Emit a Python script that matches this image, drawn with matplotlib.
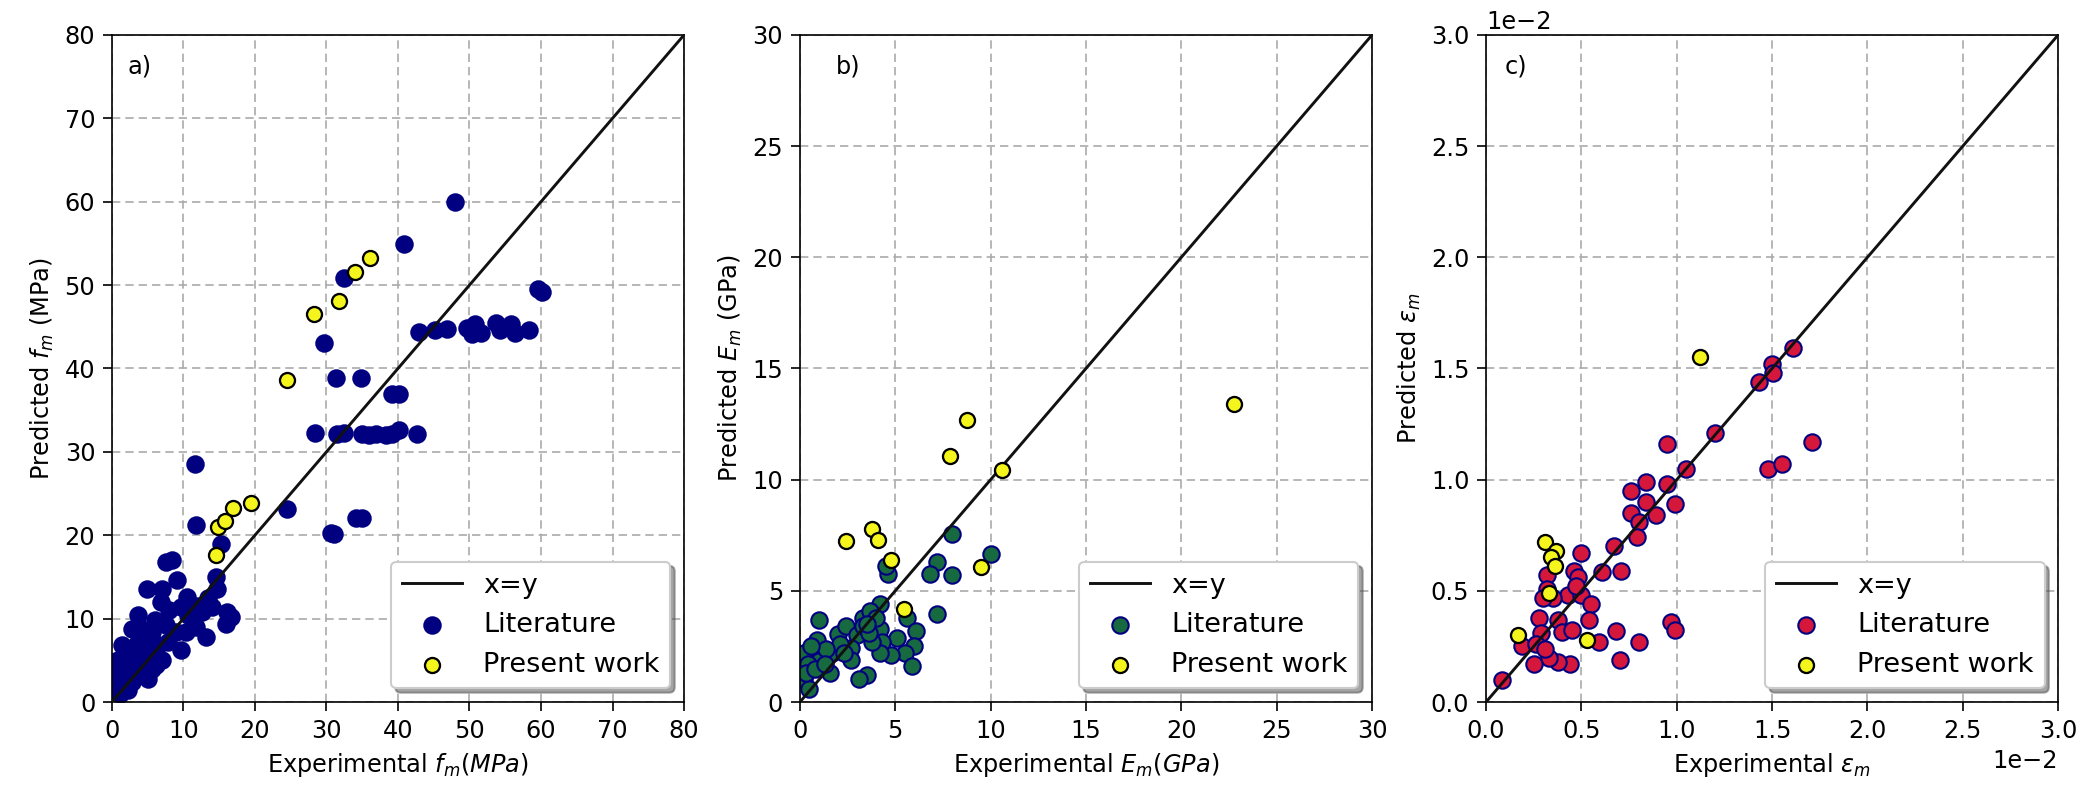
import numpy as np
import matplotlib
matplotlib.use("Agg")
import matplotlib.pyplot as plt

# | Data |-------------------------------------------------------------------------------------------------------------|
# a) compressive strength f_m (MPa)
a_lit_x = [48.0, 40.8, 32.4, 29.7, 31.3, 34.8, 39.1, 40.1, 59.6, 60.2,
           43.0, 45.2, 46.9, 49.7, 50.8, 51.6, 53.7, 54.2, 55.8, 56.4, 58.3, 50.3,
           28.4, 31.5, 32.4, 35.0, 35.9, 36.9, 38.3, 39.2, 40.1, 42.7,
           30.6, 31.0, 34.1, 35.0, 24.5, 11.6, 11.8, 15.3,
           7.5, 8.4, 9.1, 4.9, 7.0, 6.8, 10.5, 9.6, 14.5, 14.7, 14.0, 16.1, 16.6, 15.9,
           13.1, 11.7, 9.6, 7.0, 5.1, 1.9, 3.7, 2.8, 1.4, 0.9, 0.7, 4.2, 5.6, 7.5, 8.9,
           10.3, 10.7, 12.6, 3.3, 5.1, 6.1, 4.2, 2.8, 5.6, 7.9, 6.5, 2.3, 1.2, 3.0, 4.5,
           2.0, 6.0, 8.0, 12.0, 13.5, 0.5, 3.5, 1.0, 2.5, 3.8, 1.6, 4.8, 6.3, 2.2, 0.8]
a_lit_y = [60.0, 54.9, 50.9, 43.0, 38.8, 38.8, 36.9, 36.9, 49.5, 49.2,
           44.4, 44.6, 44.7, 44.8, 45.3, 44.2, 45.4, 44.6, 45.3, 44.3, 44.6, 44.1,
           32.3, 32.2, 32.3, 32.1, 32.0, 32.2, 32.0, 32.1, 32.6, 32.1,
           20.3, 20.1, 22.1, 22.1, 23.1, 28.6, 21.2, 18.9,
           16.8, 17.0, 14.6, 13.6, 13.6, 12.0, 12.6, 11.4, 15.0, 13.6, 11.4, 10.8, 10.2, 9.4,
           7.8, 9.0, 6.2, 5.0, 2.8, 1.8, 10.4, 8.8, 6.8, 4.4, 3.2, 7.6, 8.4, 9.2, 8.4,
           8.4, 10.4, 10.8, 5.6, 6.0, 4.4, 3.6, 2.4, 4.0, 7.2, 6.8, 5.2, 1.0, 4.0, 5.0,
           3.0, 9.8, 11.0, 11.5, 12.5, 1.5, 7.0, 2.2, 6.2, 9.0, 4.0, 7.0, 5.5, 1.5, 5.0]
a_new_x = [14.5, 14.8, 15.8, 16.9, 19.4, 24.5, 28.3, 31.7, 34.0, 36.1]
a_new_y = [17.6, 21.0, 21.7, 23.3, 23.9, 38.6, 46.5, 48.1, 51.6, 53.2]

# b) elastic modulus E_m (GPa)
b_lit_x = [8.0, 10.0, 7.2, 6.8, 8.0, 4.6, 4.5, 4.2, 7.2, 5.6, 6.1, 6.0, 5.5, 5.9, 5.1, 4.8,
           3.5, 3.1, 1.0, 1.6, 1.0, 0.2, 0.2, 0.4, 0.9, 2.0, 2.4, 3.0, 3.3, 3.7, 3.9, 4.2,
           4.3, 4.2, 3.8, 2.7, 1.7, 2.1, 1.35, 3.3, 3.6, 2.7, 0.5, 0.3, 0.8, 1.3, 2.3, 4.0,
           3.5, 0.6]
b_lit_y = [7.55, 6.65, 6.3, 5.75, 5.7, 5.75, 6.1, 4.4, 3.95, 3.8, 3.2, 2.5, 2.2, 1.6, 2.9, 2.1,
           1.2, 1.05, 3.7, 1.3, 1.85, 2.2, 1.0, 1.7, 2.8, 3.05, 3.4, 3.0, 3.8, 4.1, 3.4, 3.3,
           2.7, 2.2, 2.7, 2.45, 2.2, 2.6, 2.4, 3.4, 3.1, 1.9, 0.6, 1.3, 1.5, 1.7, 2.2, 3.8,
           3.5, 2.5]
b_new_x = [2.4, 3.8, 4.1, 4.8, 5.45, 9.5, 7.85, 8.78, 10.58, 22.77]
b_new_y = [7.25, 7.8, 7.3, 6.4, 4.2, 6.05, 11.05, 12.7, 10.45, 13.41]

# c) strain eps_m (x 1e-2)
c_lit_x = [0.084, 1.61, 1.50, 1.505, 1.43, 1.20, 1.05, 0.95, 1.71, 1.48, 1.55, 0.84, 0.95,
           0.76, 0.84, 0.99, 0.89, 0.76, 0.80, 0.79, 0.67, 0.50, 0.46, 0.61, 0.71, 0.32,
           0.32, 0.43, 0.50, 0.55, 0.28, 0.38, 0.54, 0.40, 0.45, 0.68, 0.59, 0.80, 0.70,
           0.44, 0.38, 0.33, 0.25, 0.19, 0.29, 0.97, 0.99, 0.35, 0.30, 0.26, 0.31, 0.48, 0.47]
c_lit_y = [0.10, 1.59, 1.52, 1.48, 1.44, 1.21, 1.05, 1.16, 1.17, 1.05, 1.07, 0.99, 0.98,
           0.95, 0.90, 0.89, 0.84, 0.85, 0.81, 0.74, 0.70, 0.67, 0.59, 0.585, 0.59, 0.57,
           0.51, 0.48, 0.48, 0.44, 0.38, 0.37, 0.37, 0.315, 0.325, 0.32, 0.27, 0.27, 0.19,
           0.17, 0.18, 0.20, 0.17, 0.25, 0.31, 0.36, 0.325, 0.47, 0.47, 0.26, 0.24, 0.56, 0.52]
c_new_x = [1.12, 0.31, 0.365, 0.34, 0.36, 0.33, 0.17, 0.53]
c_new_y = [1.55, 0.72, 0.68, 0.65, 0.61, 0.49, 0.30, 0.28]
# |--------------------------------------------------------------------------------------------------------------------|

plt.rcParams["font.family"] = "DejaVu Sans"
plt.rcParams["font.size"] = 11.5
plt.rcParams["xtick.major.size"] = 4.5
plt.rcParams["ytick.major.size"] = 4.5

fig = plt.figure(figsize=(2088 / 150, 791 / 150), dpi=150)

panels = [
    dict(rect=[0.0536, 0.1125, 0.274, 0.8433], lim=80, step=10, scale=1.0,
         lit=(a_lit_x, a_lit_y), new=(a_new_x, a_new_y), color="navy", tag="a)", tag_xy=(0.028, 0.952),
         xlabel="Experimental $f_m(MPa)$", ylabel="Predicted $f_m$ (MPa)"),
    dict(rect=[0.3831, 0.1125, 0.274, 0.8433], lim=30, step=5, scale=1.0,
         lit=(b_lit_x, b_lit_y), new=(b_new_x, b_new_y), color="#17693f", tag="b)", tag_xy=(0.063, 0.952),
         xlabel="Experimental $E_m(GPa)$", ylabel="Predicted $E_m$ (GPa)"),
    dict(rect=[0.7117, 0.1125, 0.274, 0.8433], lim=0.03, step=0.005, scale=1e-2,
         lit=(c_lit_x, c_lit_y), new=(c_new_x, c_new_y), color="#d4173a", tag="c)", tag_xy=(0.033, 0.952),
         xlabel="Experimental $\\varepsilon_m$", ylabel="Predicted $\\varepsilon_m$"),
]

for p in panels:
    ax = fig.add_axes(p["rect"])
    s = p["scale"]
    ax.plot([0, p["lim"]], [0, p["lim"]], color="#111111", lw=1.4, label="x=y", zorder=3)
    ax.scatter(np.array(p["lit"][0]) * s, np.array(p["lit"][1]) * s, s=62, c=p["color"],
               edgecolors="navy", linewidths=1.0, label="Literature", zorder=2)
    ax.scatter(np.array(p["new"][0]) * s, np.array(p["new"][1]) * s, s=52, c="#f5f51e",
               edgecolors="black", linewidths=1.1, label="Present work", zorder=4)
    ax.set_xlim(0, p["lim"])
    ax.set_ylim(0, p["lim"])
    ticks = np.arange(0, p["lim"] + p["step"] / 2, p["step"])
    ax.set_xticks(ticks)
    ax.set_yticks(ticks)
    if s != 1.0:
        ax.ticklabel_format(style="sci", axis="both", scilimits=(0, 0))
    ax.grid(True, linestyle=(0, (5, 3)), color="#aaaaaa", lw=0.8)
    ax.set_axisbelow(True)
    ax.set_xlabel(p["xlabel"])
    ax.set_ylabel(p["ylabel"])
    ax.text(p["tag_xy"][0], p["tag_xy"][1], p["tag"], transform=ax.transAxes, va="center", ha="left")
    ax.legend(loc="lower right", shadow=True, fancybox=True, framealpha=1.0, fontsize=13,
              handlelength=2.2)

fig.savefig("out.png", dpi=150)
